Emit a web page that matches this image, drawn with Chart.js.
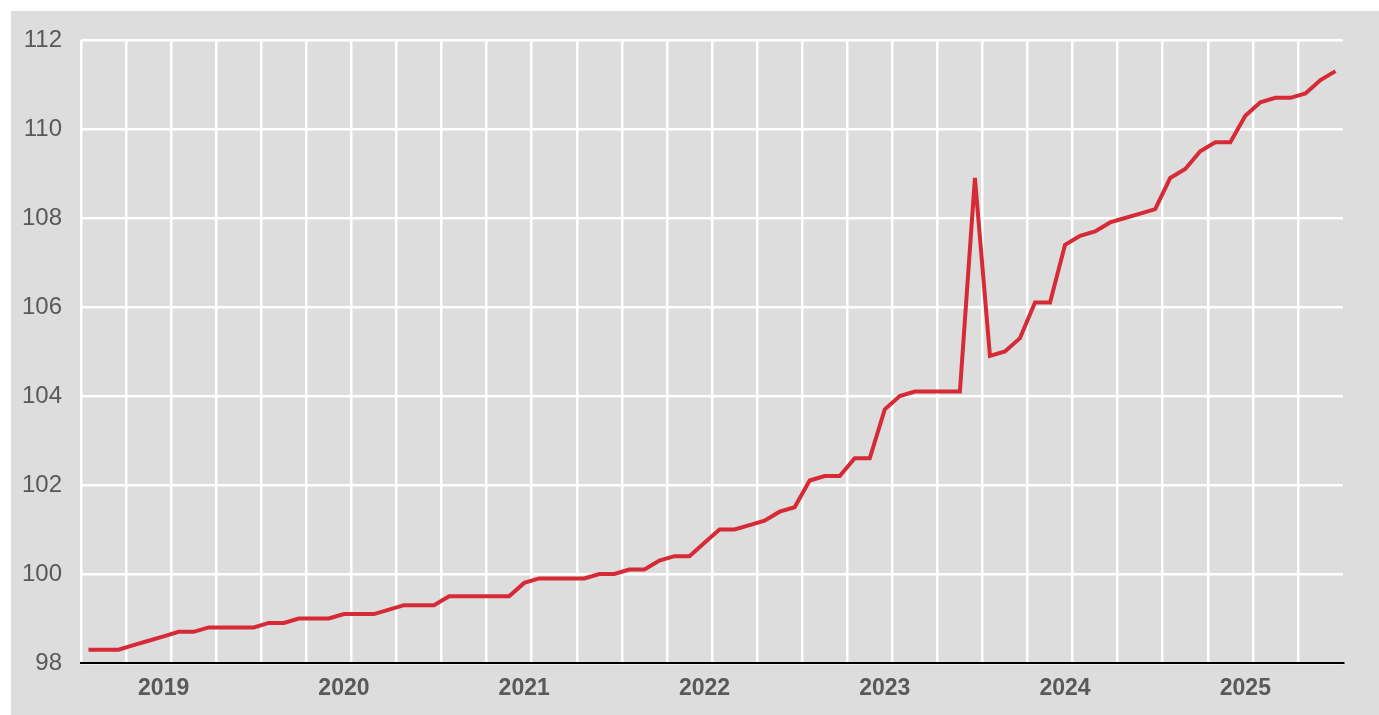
<!DOCTYPE html>
<html>
<head>
<meta charset="utf-8">
<script src="https://cdn.jsdelivr.net/npm/chart.js@4/dist/chart.umd.min.js"></script>
<style>
    html, body { margin: 0; padding: 0; background: #ffffff; }
    #wrap {
        position: absolute;
        left: 11px; top: 11px;
        width: 1368px; height: 704px;
        background: #dddddd;
    }
</style>
</head>
<body>
<div id="wrap"><canvas id="chart"></canvas></div>
<script>
// ─── Data (monthly index, Jan 2019 – Dec 2025) ───────────────────────────────
const years = ['2019', '2020', '2021', '2022', '2023', '2024', '2025'];

const v2019 = [98.3, 98.3, 98.3, 98.4, 98.5, 98.6, 98.7, 98.7, 98.8, 98.8, 98.8, 98.8];
const v2020 = [98.9, 98.9, 99.0, 99.0, 99.0, 99.1, 99.1, 99.1, 99.2, 99.3, 99.3, 99.3];
const v2021 = [99.5, 99.5, 99.5, 99.5, 99.5, 99.8, 99.9, 99.9, 99.9, 99.9, 100.0, 100.0];
const v2022 = [100.1, 100.1, 100.3, 100.4, 100.4, 100.7, 101.0, 101.0, 101.1, 101.2, 101.4, 101.5];
const v2023 = [102.1, 102.2, 102.2, 102.6, 102.6, 103.7, 104.0, 104.1, 104.1, 104.1, 104.1, 108.9];
const v2024 = [104.9, 105.0, 105.3, 106.1, 106.1, 107.4, 107.6, 107.7, 107.9, 108.0, 108.1, 108.2];
const v2025 = [108.9, 109.1, 109.5, 109.7, 109.7, 110.3, 110.6, 110.7, 110.7, 110.8, 111.1, 111.3];

const yTicks = [98, 100, 102, 104, 106, 108, 110, 112];

// one label per month, e.g. "2019-01"
const months = [];
years.forEach(y => {
    for (let m = 1; m <= 12; m++) months.push(y + '-' + String(m).padStart(2, '0'));
});
const values = [].concat(v2019, v2020, v2021, v2022, v2023, v2024, v2025);

// ─── Chart ───────────────────────────────────────────────────────────────────
const FONT = "'Liberation Sans', Arial, sans-serif";
const TEXT = '#595959';

// scales get no extra padding: layout.padding alone places the plot
function fixBox(s, size) {
    if (s.isHorizontal()) s.height = size; else s.width = size;
    s.paddingTop = s.paddingBottom = s.paddingLeft = s.paddingRight = 0;
}

new Chart(document.getElementById('chart'), {
    type: 'line',
    data: {
        labels: months,
        datasets: [{
            data: values,
            borderColor: '#d62a36',
            borderWidth: 4,
            pointRadius: 0,
            tension: 0,
            fill: false
        }]
    },
    options: {
        responsive: true,
        maintainAspectRatio: false,
        animation: false,
        layout: { autoPadding: false, padding: { top: 29, right: 36, left: 0, bottom: 0 } },
        plugins: {
            legend:  { display: false },
            tooltip: { enabled: false }
        },
        scales: {
            x: {
                offset: true,
                afterFit: s => fixBox(s, 52),
                grid: {
                    offset: true,
                    drawTicks: false,
                    lineWidth: 2.5,
                    // quarterly vertical lines
                    color: ctx => (ctx.index % 3 === 0 ? '#ffffff' : 'rgba(0,0,0,0)')
                },
                border: { display: true, color: '#000000', width: 2 },
                ticks: {
                    autoSkip: false,
                    maxRotation: 0,
                    padding: 12,
                    color: TEXT,
                    font: { family: FONT, size: 23, weight: 'bold' },
                    // year label sits under June of each year
                    callback: (val, i) => (i % 12 === 5 ? years[Math.floor(i / 12)] : '')
                }
            },
            y: {
                min: yTicks[0],
                max: yTicks[yTicks.length - 1],
                afterFit: s => fixBox(s, 70),
                afterBuildTicks: s => { s.ticks = yTicks.map(v => ({ value: v })); },
                grid: { drawTicks: false, lineWidth: 2.5, color: '#ffffff' },
                border: { display: false },
                ticks: {
                    padding: 19,
                    color: TEXT,
                    font: { family: FONT, size: 24 }
                }
            }
        }
    }
});
</script>
</body>
</html>
